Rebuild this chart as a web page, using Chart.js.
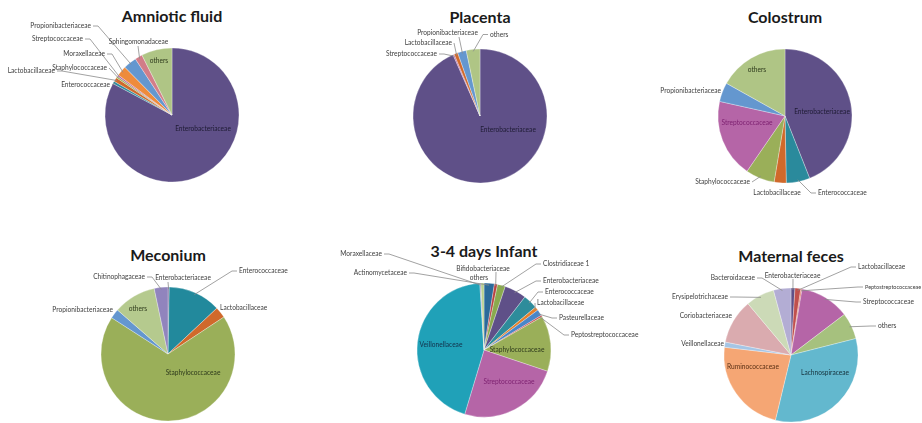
<!DOCTYPE html>
<html>
<head>
<meta charset="utf-8">
<script src="https://cdn.jsdelivr.net/npm/chart.js@4.4.1/dist/chart.umd.min.js"></script>
<style>
body{margin:0;background:#fff}
#wrap{position:relative;width:922px;height:423px;overflow:hidden}
#wrap canvas{position:absolute}
.ttl{position:absolute;transform:translateX(-50%);font:bold 16px Lato,sans-serif;color:#1a1a1a;white-space:nowrap;line-height:20px}
</style>
</head>
<body>
<div id="wrap"></div>
<script>
// family shares (%) per sample, clockwise from 12 o'clock
const amnioticNames=['Enterobacteriaceae','Enterococcaceae','Lactobacillaceae','Staphylococcaceae','Streptococcaceae','Moraxellaceae','Propionibacteriaceae','Sphingomonadaceae','others'];
const amnioticValues=[82.8,0.6,1.0,0.4,0.4,2.4,3.2,1.8,7.4];

const placentaNames=['Enterobacteriaceae','Streptococcaceae','Lactobacillaceae','Propionibacteriaceae','others'];
const placentaValues=[93.4,0.3,0.9,2.1,3.3];

const colostrumNames=['Enterobacteriaceae','Enterococcaceae','Lactobacillaceae','Staphylococcaceae','Streptococcaceae','Propionibacteriaceae','others'];
const colostrumValues=[44.0,5.7,2.9,7.0,18.9,4.6,16.9];

const meconiumNames=['Enterobacteriaceae','Enterococcaceae','Lactobacillaceae','Staphylococcaceae','Propionibacteriaceae','others','Chitinophagaceae'];
const meconiumValues=[0.3,12.7,2.7,68.4,2.3,10.3,3.3];

const infantNames=['Actinomycetaceae','Bifidobacteriaceae','Clostridiaceae 1','Enterobacteriaceae','Enterococcaceae','Lactobacillaceae','Pasteurellaceae','Peptostreptococcaceae','Staphylococcaceae','Streptococcaceae','Veillonellaceae','Moraxellaceae','others'];
const infantValues=[2.5,0.75,1.9,5.3,3.5,0.9,1.5,0.4,13.4,24.5,44.35,0.25,0.75];

const maternalNames=['Enterobacteriaceae','Lactobacillaceae','Peptostreptococcaceae','Streptococcaceae','others','Lachnospiraceae','Ruminococcaceae','Veillonellaceae','Coriobacteriaceae','Erysipelotrichaceae','Bacteroidaceae'];
const maternalValues=[0.95,1.4,0.3,12.0,6.4,32.7,23.1,1.25,10.8,6.9,4.2];

// slice colours
const C={entero:'#5f5088',enteroc:'#2a8a9c',lacto:'#d0692b',staph:'#9aaf59',strep:'#b565a7',propi:'#6497cf',others:'#afc585'};
const amnioticColors=[C.entero,C.enteroc,C.lacto,C.staph,C.strep,'#ee8b3c',C.propi,'#d27d88',C.others];
const placentaColors=[C.entero,C.strep,C.lacto,C.propi,C.others];
const colostrumColors=[C.entero,C.enteroc,C.lacto,C.staph,C.strep,C.propi,C.others];
const meconiumColors=[C.entero,'#22899c',C.lacto,C.staph,C.propi,'#b5ca8e','#9184bd'];
const infantColors=['#2b6a9a','#b94242','#8aaa4e',C.entero,'#2e8c9b','#e5802a','#4a86c8','#c84e4e',C.staph,C.strep,'#20a1b8','#8f8bc0','#b9cf8f'];
const maternalColors=[C.entero,'#c0504d','#e07060',C.strep,'#a6c17e','#63b8ce','#f5a674','#a5c5e5','#daabaf','#ccdab7','#b3add4'];

// label placement relative to pie centre: [dx, dy, align, leader, colour, font size]
// align l/r/c = text starts/ends/centred at dx; leader 1 = from text edge, [x,y] = from that point
const amnioticTags=[[31,14,'c',0,'#1e1b33'],[-62,-30,'r',1],[-117,-44,'r',1],[-65,-47,'r',1],[-89,-76,'r',1],[-67,-61,'r',1],[-81,-89,'r',1],[-33.5,-73,'c',[-34,-69]],[-13,-54,'c',0,'#2e3a1c']];
const placentaTags=[[28,14,'c',0,'#1e1b33'],[-43,-62,'r',1],[-28,-73,'r',1],[-32.5,-83,'c',[-21,-79]],[10,-81.5,'l',1]];
const colostrumTags=[[37,-4,'c',0,'#1e1b33'],[33,77,'l',1],[-8,77,'c',0],[-35,66,'r',1],[-38,7,'c',0,'#7c1f6f'],[-64,-25,'r',0],[-28,-46,'c',0,'#2e3a1c']];
const meconiumTags=[[15,-76,'c',[0,-72]],[71,-83,'l',1],[52,-46,'l',0],[25,19,'c',0,'#2e3a1c'],[-55,-44,'r',0],[-30,-45,'c',0,'#2e3a1c'],[-23,-77,'r',1]];
const infantTags=[[-77,-77,'r',1],[-1,-81,'c',[12,-78]],[59,-86,'l',1],[59,-69,'l',1],[61,-58,'l',1],[53,-47,'l',1],[75,-32,'l',1],[87,-15,'l',1],[33,0,'c',0,'#2e3a1c'],[25,32,'c',0,'#7c1f6f'],[-43,-5,'c',0,'#13304a'],[-102,-96,'r',1],[-5,-72,'c',0]];
const maternalTags=[[1.5,-79,'c',[2,-76]],[67,-88,'l',1],[74,-68,'l',1,null,5.5],[72,-53,'l',1],[87,-29,'l',1],[34,18,'c',0,'#15313b'],[-38,12,'c',0,'#5a3014'],[-67,-11,'r',0],[-59,-39,'r',0],[-63,-58,'r',1],[-36,-77,'r',1]];

const R=67;
const panels=[
 {title:'Amniotic fluid',names:amnioticNames,values:amnioticValues,colors:amnioticColors,tags:amnioticTags,left:0,top:0,w:320,h:212,cx:172,cy:115},
 {title:'Placenta',names:placentaNames,values:placentaValues,colors:placentaColors,tags:placentaTags,left:320,top:0,w:328,h:212,cx:480,cy:116},
 {title:'Colostrum',names:colostrumNames,values:colostrumValues,colors:colostrumColors,tags:colostrumTags,left:648,top:0,w:274,h:212,cx:785,cy:116},
 {title:'Meconium',names:meconiumNames,values:meconiumValues,colors:meconiumColors,tags:meconiumTags,left:0,top:212,w:320,h:211,cx:168,cy:354},
 {title:'3-4 days Infant',names:infantNames,values:infantValues,colors:infantColors,tags:infantTags,left:320,top:212,w:328,h:211,cx:484,cy:350},
 {title:'Maternal feces',names:maternalNames,values:maternalValues,colors:maternalColors,tags:maternalTags,left:648,top:212,w:274,h:211,cx:791,cy:355}
];

function tagPlugin(tags){
 return {
  id:'sliceTags',
  afterDatasetsDraw(chart){
   const ctx=chart.ctx,meta=chart.getDatasetMeta(0),names=chart.data.labels;
   ctx.save();
   ctx.textBaseline='middle';
   meta.data.forEach((arc,i)=>{
    const t=tags[i];if(!t)return;
    const p=arc.getProps(['x','y','startAngle','endAngle','outerRadius'],true);
    const [dx,dy,align,lead,color,size]=t;
    const tx=p.x+dx,ty=p.y+dy;
    if(lead){
     const mid=(p.startAngle+p.endAngle)/2;
     const ex=p.x+Math.cos(mid)*(p.outerRadius-2),ey=p.y+Math.sin(mid)*(p.outerRadius-2);
     let sx,sy;
     if(Array.isArray(lead)){sx=p.x+lead[0];sy=p.y+lead[1];}
     else{sx=tx+(align==='r'?2:-2);sy=ty;}
     ctx.beginPath();ctx.moveTo(sx,sy);
     if(!Array.isArray(lead)&&Math.abs(ex-sx)>10)ctx.lineTo(sx+(align==='r'?5:-5),sy);
     ctx.lineTo(ex,ey);
     ctx.strokeStyle='#8a8a8a';ctx.lineWidth=0.8;ctx.stroke();
    }
    ctx.font=(size||6.6)+'px Lato';
    ctx.textAlign=align==='l'?'left':align==='r'?'right':'center';
    ctx.fillStyle=color||'#404040';
    ctx.fillText(names[i],tx,ty);
   });
   ctx.restore();
  }
 };
}

function build(){
 const wrap=document.getElementById('wrap');
 panels.forEach(pn=>{
  const t=document.createElement('div');
  t.className='ttl';t.textContent=pn.title;
  t.style.left=pn.cx+'px';t.style.top=(pn.cy-109.5)+'px';
  wrap.appendChild(t);
  const cv=document.createElement('canvas');
  cv.width=pn.w;cv.height=pn.h;
  cv.style.left=pn.left+'px';cv.style.top=pn.top+'px';
  wrap.appendChild(cv);
  const lx=pn.cx-pn.left,ly=pn.cy-pn.top;
  new Chart(cv,{
   type:'pie',
   data:{labels:pn.names,datasets:[{data:pn.values,backgroundColor:pn.colors,borderColor:'rgba(255,255,255,0.6)',borderWidth:0.5,radius:R,clip:false,hoverOffset:0}]},
   options:{
    responsive:false,animation:false,
    layout:{padding:{left:lx-5,right:pn.w-lx-5,top:ly-5,bottom:pn.h-ly-5}},
    plugins:{legend:{display:false},tooltip:{enabled:false}}
   },
   plugins:[tagPlugin(pn.tags)]
  });
 });
}
document.fonts.load('6.6px Lato').then(build,build);
</script>
</body>
</html>
